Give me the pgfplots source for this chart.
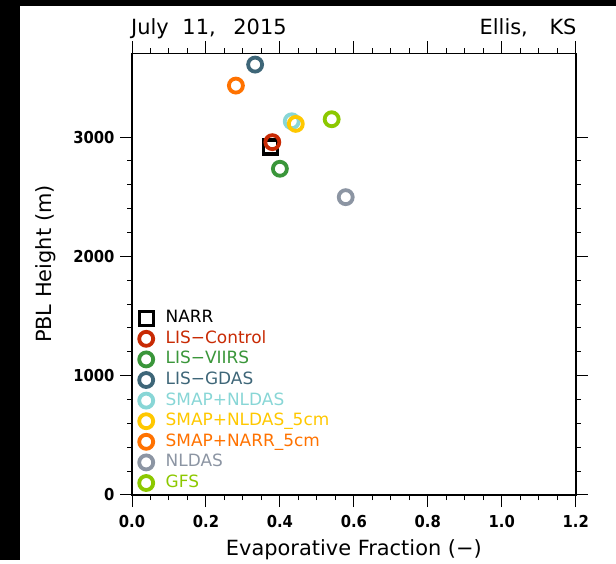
\documentclass[border=0pt]{standalone}
\usepackage{fontspec}
\setmainfont{DejaVu Sans}
\newfontfamily\tickfont{DejaVu Sans Condensed}
\usepackage{pgfplots}
\pgfplotsset{compat=1.18}
\definecolor{cRed}{RGB}{200,42,4}
\definecolor{cGreen}{RGB}{58,150,58}
\definecolor{cTeal}{RGB}{62,102,120}
\definecolor{cCyan}{RGB}{136,214,214}
\definecolor{cYellow}{RGB}{255,200,0}
\definecolor{cOrange}{RGB}{255,114,0}
\definecolor{cGray}{RGB}{140,149,163}
\definecolor{cLime}{RGB}{140,200,0}
\begin{document}
\begin{tikzpicture}
\fill[black] (0bp,0bp) rectangle (20bp,560bp);
\fill[black] (0bp,554bp) rectangle (616bp,560bp);
\begin{axis}[name=ax, at={(132bp,65bp)}, anchor=south west,
  scale only axis, width=443.7bp, height=441.5bp,
  xmin=0, xmax=1.2, ymin=0, ymax=3700,
  xtick={0,0.2,0.4,0.6,0.8,1.0,1.2},
  xticklabels={0.0,0.2,0.4,0.6,0.8,1.0,1.2},
  minor x tick num=3,
  ytick={0,1000,2000,3000}, minor y tick num=4,
  tick pos=both, xticklabel pos=lower, yticklabel pos=lower,
  tick align=outside, major tick length=12bp, minor tick length=5bp,
  axis line style={line width=1.6bp},
  tick style={line width=1bp, black},
  ticklabel style={font=\tickfont\bfseries\fontsize{16.5}{18}\selectfont},
  xticklabel style={yshift=-5bp},
  yticklabel style={xshift=-2bp},
  /pgf/number format/assume math mode=true,
  /pgf/number format/1000 sep={},
  xlabel={Evaporative Fraction (−)},
  ylabel={PBL Height (m)},
  label style={font=\fontsize{21}{24}\selectfont},
  xlabel style={at={(axis description cs:0.5,-0.125)}, anchor=center},
  ylabel style={at={(axis description cs:-0.195,0.523)}, anchor=center},
  legend cell align=left,
  legend style={at={(rel axis cs:0.0158,0.4242)}, anchor=north west,
    draw=none, fill=none, inner sep=0pt, row sep=0pt, column sep=12.5bp,
    font=\fontsize{17}{19}\selectfont,
    nodes={minimum height=20.6bp, text height=12bp, text depth=3bp, inner sep=0pt}},
  every axis plot/.append style={only marks, mark size=7bp, line width=3.8bp},
]
\addplot[black, mark=square, mark size=7bp, line width=3.4bp] coordinates {(0.375,2915)};
\addlegendentry{NARR}
\addplot[cRed, mark=o] coordinates {(0.3795,2957)};
\addlegendentry{\textcolor{cRed}{LIS−Control}}
\addplot[cGreen, mark=o] coordinates {(0.400,2734)};
\addlegendentry{\textcolor{cGreen}{LIS−VIIRS}}
\addplot[cTeal, mark=o] coordinates {(0.333,3607)};
\addlegendentry{\textcolor{cTeal}{LIS−GDAS}}
\addplot[cCyan, mark=o] coordinates {(0.432,3132)};
\addlegendentry{\textcolor{cCyan}{SMAP+NLDAS}}
\addplot[cYellow, mark=o] coordinates {(0.443,3110)};
\addlegendentry{\textcolor{cYellow}{SMAP+NLDAS\_5cm}}
\addplot[cOrange, mark=o] coordinates {(0.281,3431)};
\addlegendentry{\textcolor{cOrange}{SMAP+NARR\_5cm}}
\addplot[cGray, mark=o] coordinates {(0.578,2496)};
\addlegendentry{\textcolor{cGray}{NLDAS}}
\addplot[cLime, mark=o] coordinates {(0.540,3149)};
\addlegendentry{\textcolor{cLime}{GFS}}
\end{axis}
\node[anchor=base west, inner sep=0pt, font=\fontsize{21}{24}\selectfont] at ([xshift=-1bp,yshift=18.5bp]ax.north west) {July\hspace{7bp} 11,\hspace{11bp} 2015};
\node[anchor=base east, inner sep=0pt, font=\fontsize{21}{24}\selectfont] at ([xshift=1bp,yshift=18.5bp]ax.north east) {Ellis,\hspace{15bp} KS};
\end{tikzpicture}
\end{document}
